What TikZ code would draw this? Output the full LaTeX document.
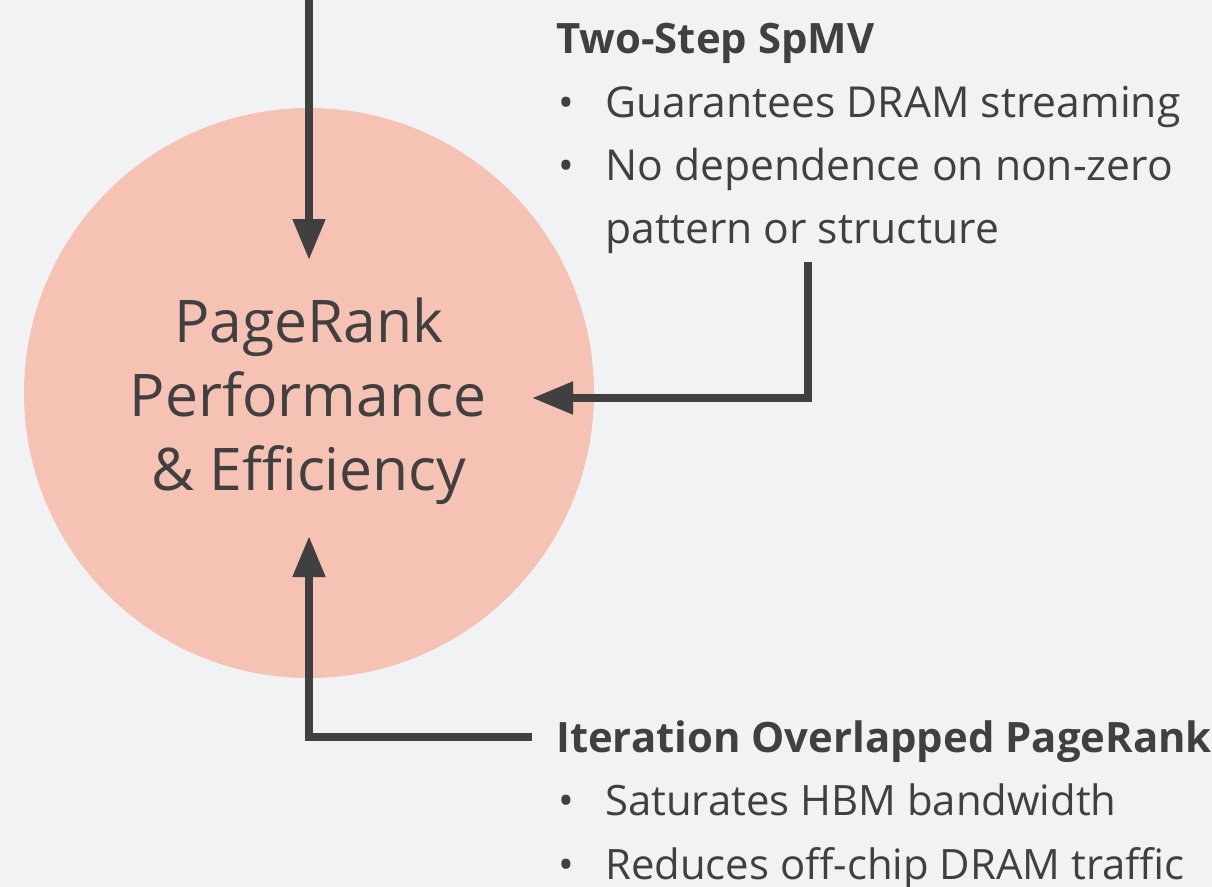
\documentclass[tikz,border=0pt]{standalone}
\usepackage{fontspec}
\setmainfont{Open Sans}
\usetikzlibrary{arrows.meta}
\definecolor{bg}{HTML}{F1F2F4}
\definecolor{salmon}{HTML}{F5C2B3}
\definecolor{ink}{HTML}{404040}
\begin{document}
\begin{tikzpicture}[x=1bp,y=-1bp,
  conn/.style={draw=ink,line width=8bp,line join=miter,-{Triangle[length=41bp,width=31bp]}},
  head/.style={anchor=base west,inner sep=0pt,text=ink,font=\fontsize{42}{50}\selectfont\bfseries},
  item/.style={anchor=base west,inner sep=0pt,text=ink,font=\fontsize{42.8}{50}\selectfont},
  itemb/.style={anchor=base west,inner sep=0pt,text=ink,font=\fontsize{42}{50}\selectfont},
  bul/.style={anchor=base,inner sep=0pt,text=ink,font=\fontsize{42}{50}\selectfont},
  big/.style={anchor=base,inner sep=0pt,text=ink,font=\fontsize{59}{70}\selectfont}]
\fill[bg] (0,0) rectangle (1212,887);
\useasboundingbox (0,0) rectangle (1212,887);
\node[circle,fill=salmon,minimum size=570bp,inner sep=0pt] (c) at (309,393) {};
\node[big] (t1) at (309,342) {PageRank};
\node[big] (t2) at (308,416) {Performance};
\node[big] (t3) at (309,490) {\& Efficiency};
% right text block
\node[head] (h1) at (556,53) {Two-Step SpMV};
\node[bul] (b1) at (566,117) {•};
\node[item] (i1) at (605,117) {Guarantees DRAM streaming};
\node[bul] (b2) at (566,180) {•};
\node[item] (i2) at (605,180) {No dependence on non-zero};
\node[item] (i3) at (605,243) {pattern or structure};
\node[head] (h2) at (556,752) {Iteration Overlapped PageRank};
\node[bul] (b3) at (566,815) {•};
\node[itemb] (i4) at (605,815) {Saturates HBM bandwidth};
\node[bul] (b4) at (566,879) {•};
\node[itemb] (i5) at (605,879) {Reduces off-chip DRAM traffic};
% connector ends
\coordinate (topin) at (309,-5);
\coordinate (toptip) at (309,260);
\coordinate (rstart) at (808,262);
\coordinate (rtip) at (532,398);
\coordinate (bstart) at (532,737);
\coordinate (btip) at (309,536);
\draw[conn] (topin) -- (toptip);
\draw[conn] (rstart) |- (rtip);
\draw[conn] (bstart) -| (btip);
\end{tikzpicture}
\end{document}
